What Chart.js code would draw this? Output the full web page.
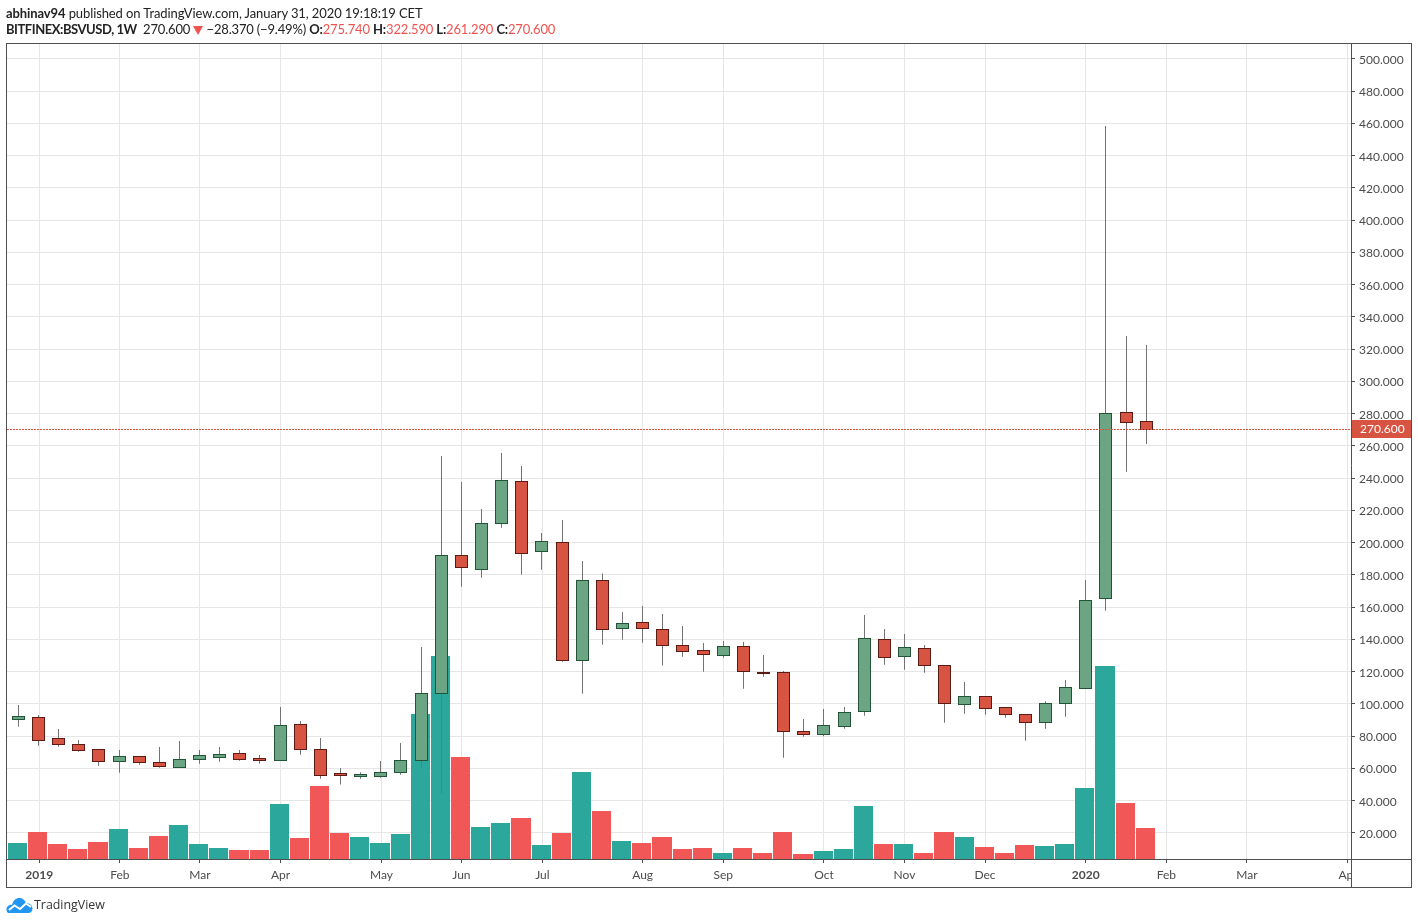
<!DOCTYPE html>
<html><head><meta charset="utf-8">
<style>
html,body{margin:0;padding:0;background:#fff;width:1418px;height:924px;overflow:hidden}
canvas{position:absolute;left:0;top:0}
.h{position:absolute;left:6px;font:13px Lato,sans-serif;color:#222;white-space:nowrap}
.h b{font-weight:700}.r{color:#ef5350}
.tri{display:inline-block;width:0;height:0;border-left:5px solid transparent;border-right:5px solid transparent;border-top:9px solid #ef5350;margin:0 0 0 0;vertical-align:-1px}
#l1{top:5px;letter-spacing:-.1px}
#l2{top:21px;letter-spacing:-.17px}
#sym{letter-spacing:-.45px}
#logo{position:absolute;left:6px;top:897px}
#tv{position:absolute;left:34px;top:896px;font:12.4px "Open Sans",sans-serif;color:#333}
</style>
<script src="https://cdn.jsdelivr.net/npm/chart.js@4"></script>
</head><body>
<canvas id="c" width="1418" height="924"></canvas>
<div class="h" id="l1"><b>abhinav94</b> published on TradingView.com, January 31, 2020 19:18:19 CET</div>
<div class="h" id="l2"><b id="sym">BITFINEX:BSVUSD, 1W</b>&nbsp; 270.600 <span class="tri"></span> −28.370 (−9.49%) <b>O:</b><span class="r">275.740</span> <b>H:</b><span class="r">322.590</span> <b>L:</b><span class="r">261.290</span> <b>C:</b><span class="r">270.600</span></div>
<svg id="logo" width="27" height="16" viewBox="0 0 27 16"><path d="M2 16C0 14.500 0 11 1.500 9.500 3 8 4.500 7.500 6 8 7 3.500 10 1 13.500 1 16.500 1 19 3 20 6 23.500 5.800 26.500 8.500 26.500 11.500 26.500 14 25 16 22 16Z" fill="#2196f3"/><path d="M3 13 8.500 8.500 14 12 20 6.500 25 10" fill="none" stroke="#fff" stroke-width="2"/></svg>
<div id="tv">TradingView</div>
<script>
const opens=[90.9,91.8,78.7,75,71.9,64.5,67.6,63.8,61.1,66.1,67.3,69.4,66.3,65.5,87.4,71.9,57,55.5,55.5,57.6,65.1,106.6,192.2,183.5,212.1,238.1,194.7,200.3,127.1,176.7,146.9,150.7,146.3,136.4,133.3,130.2,135.8,119.7,119.7,83.1,81.2,86.2,95.5,140.1,129.6,134.5,124,99.8,104.8,98,93.6,88.7,100.4,110.1,165.6,280.9,275.74];
const closes=[92.4,77.9,75,71.7,64.5,67.6,63.8,61.7,65.7,68.2,68.8,66.1,65.5,86.8,71.9,56.2,56.2,56.4,57.6,65.1,106.6,192.2,184.8,212.1,238.7,193.5,200.9,127.1,176.7,146.3,150,146.9,136.4,132.7,130.8,135.8,120.3,119.3,83.1,81.2,86.8,94.9,140.7,129,135.2,124,100.4,104.8,97.3,93.6,88.7,100.4,110.4,164.3,280.3,274.7,270.6];
const highs=[99.4,93.2,84.5,77.7,71.9,71.5,67.6,73.3,77.1,71.5,73.3,71.5,68.4,98.1,89.5,78.9,60.3,57.6,64.7,75.8,135.3,253.8,237.7,220.9,255.7,247.6,206,214.1,188.7,181,157.1,160.8,155.8,148.4,137.8,139.1,138.5,130.4,120.5,90.7,96.9,98.1,155.2,146.5,143.4,136.6,124,113.6,104.8,98,93.6,101.7,114.9,176.9,458.5,328.2,322.59];
const lows=[85.9,74.1,73.5,70.4,61.7,57.4,62.4,60.5,61.1,63,64.2,64.8,63,65.5,68.6,53.7,50,53.7,54.3,56.2,60.5,44.4,172.7,178.3,209.3,180.2,183.3,126.2,106.4,136.8,139.9,138,123.8,129.3,120,128.7,109.5,116.9,66.7,79.7,80,84.7,92.7,124.4,121.3,119.4,88.4,94,93.4,91.5,77.2,84.7,92.1,109.5,157.9,244.1,261.29];
const volumes=[1.6,2.7,1.5,1,1.7,3,1.1,2.3,3.4,1.5,1.1,.9,.9,5.5,2.1,7.3,2.6,2.2,1.6,2.5,14.5,20.3,10.2,3.2,3.6,4.1,1.4,2.6,8.7,4.8,1.8,1.6,2.2,1,1.1,.6,1.1,.6,2.7,.5,.8,1,5.3,1.5,1.5,.6,2.7,2.2,1.2,.6,1.4,1.3,1.5,7.1,19.3,5.6,3.1];
const priceTicks=[20,40,60,80,100,120,140,160,180,200,220,240,260,280,300,320,340,360,380,400,420,440,460,480,500];
const timeTicks=[1.04,5.04,9.02,13.02,18.03,22,26.02,31,35,40,44,48,53,57,61,66.02];
const timeLabels=['2019','Feb','Mar','Apr','May','Jun','Jul','Aug','Sep','Oct','Nov','Dec','2020','Feb','Mar','Apr'];
const yearLabels=['2019','2020'];
const lastPrice=270.6;

const GREEN='#6ba583',GREEND='#225437',RED='#d75442',REDD='#5b1a13',WICK='#737375',TEXT='#4c4c4c',FRAME='#4f4f4f',GRID='#e6e6e6';
const up=opens.map((o,i)=>closes[i]>=o);
const FONT='"Lato",sans-serif';

const crisp={id:'crisp',
 afterDatasetsUpdate(ch){
  ch.getDatasetMeta(0).data.forEach(el=>{
   el.x=Math.floor(el.x)+.5;el.width=13;
   let t=Math.round(Math.min(el.y,el.base)),b=Math.round(Math.max(el.y,el.base))+1;
   if(b-t<2)b=t+2;
   el.y=t;el.base=b;
  });
  ch.getDatasetMeta(1).data.forEach(el=>{el.x=Math.floor(el.x)+.5;el.width=1;});
  ch.getDatasetMeta(2).data.forEach(el=>{
   const l=Math.round(el.x-10.4),r=Math.round(el.x+9.74)-1;
   el.x=(l+r)/2;el.width=r-l;el.y=Math.round(el.y);
  });
 }};

const overlay={id:'overlay',
 afterDatasetsDraw(ch){
  const {ctx,chartArea:a,scales:{y}}=ch;const p=Math.round(y.getPixelForValue(lastPrice))+.5;
  ctx.save();ctx.strokeStyle=RED;ctx.lineWidth=1;ctx.setLineDash([2,1]);
  ctx.beginPath();ctx.moveTo(a.left,p);ctx.lineTo(a.right,p);ctx.stroke();ctx.restore();
 },
 afterDraw(ch){
  const {ctx,chartArea:a,scales:{y}}=ch;const p=y.getPixelForValue(lastPrice);
  ctx.save();
  ctx.fillStyle='#fff';ctx.fillRect(a.right+1,a.bottom+1,59,27);
  ctx.fillStyle=RED;ctx.fillRect(a.right+1,Math.round(p)-9,60,18);
  ctx.fillStyle='#fff';ctx.font='12px '+FONT;ctx.textBaseline='middle';ctx.textAlign='left';
  ctx.fillText(lastPrice.toFixed(3),1360,Math.round(p));
  ctx.strokeStyle=FRAME;ctx.lineWidth=1;
  ctx.strokeRect(6.5,43.5,1405,844);
  ctx.beginPath();ctx.moveTo(1351.5,44);ctx.lineTo(1351.5,887);ctx.moveTo(7,859.5);ctx.lineTo(1411,859.5);ctx.stroke();
  ctx.restore();
 }};

new Chart(document.getElementById('c'),{
 type:'bar',
 data:{datasets:[
  {label:'Body',order:1,grouped:false,barThickness:13,borderWidth:1,borderSkipped:false,inflateAmount:0,
   data:opens.map((o,i)=>({x:i,y:[o,closes[i]]})),
   backgroundColor:up.map(u=>u?GREEN:RED),borderColor:up.map(u=>u?GREEND:REDD)},
  {label:'Wick',order:2,grouped:false,barThickness:1,borderWidth:0,inflateAmount:0,
   data:lows.map((l,i)=>({x:i,y:[l,highs[i]]})),backgroundColor:WICK},
  {label:'Volume',order:3,grouped:false,barThickness:19,borderWidth:0,inflateAmount:0,yAxisID:'v',
   data:volumes.map((v,i)=>({x:i,y:v})),
   backgroundColor:up.map(u=>u?'#2ba79b':'#f25757')}
 ]},
 options:{responsive:false,animation:false,
  layout:{padding:{left:7,top:44,right:6,bottom:37}},
  plugins:{legend:{display:false},tooltip:{enabled:false}},
  scales:{
   x:{type:'linear',min:-.561,max:66.17,offset:false,
    afterBuildTicks(s){s.ticks=timeTicks.map(v=>({value:v}));},
    afterFit(s){s.height=28;},
    grid:{offset:false,color:GRID,tickColor:FRAME,tickLength:4,lineWidth:1,drawOnChartArea:true},
    border:{display:false},
    ticks:{autoSkip:false,maxRotation:0,color:TEXT,padding:5,
     font:c=>({family:FONT,size:12,weight:yearLabels.includes(timeLabels[c.index])?'bold':'normal'}),
     callback:(v,i)=>timeLabels[i]}},
   y:{position:'right',min:3.876,max:509.3,
    afterBuildTicks(s){s.ticks=priceTicks.map(v=>({value:v}));},
    afterFit(s){s.width=61;},
    grid:{color:GRID,tickColor:FRAME,tickLength:4,lineWidth:1},
    border:{display:false},
    ticks:{color:TEXT,padding:4,labelOffset:1,font:{family:FONT,size:12},autoSkip:false,callback:v=>Number(v).toFixed(3)}},
   v:{display:false,position:'left',min:0,max:81.5}
  }
 },
 plugins:[crisp,overlay]
});
</script>
</body></html>
